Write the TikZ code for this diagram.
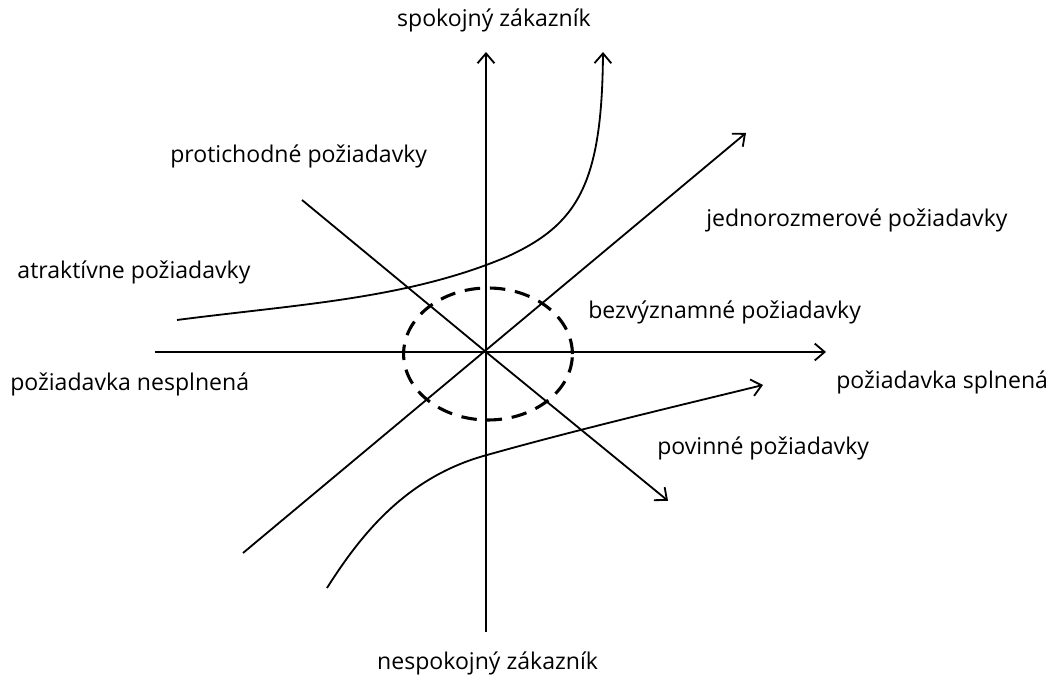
\documentclass[tikz,border=0pt]{standalone}
\usepackage{fontspec}
\setmainfont{Open Sans}
\usetikzlibrary{arrows.meta}

\tikzset{
    axis/.style={line width=1.3pt, -{Straight Barb[length=7pt,width=12pt]}},
    lbl/.style={font=\fontsize{16.4}{19}\selectfont, inner sep=0pt, anchor=west},
}

\begin{document}
\begin{tikzpicture}
    \useasboundingbox (-12.15,-8.125) rectangle (14.2,8.8);

    % koncove body osi a priamok
    \coordinate (O) at (0,0);
    \coordinate (xl) at (-8.275,0);
    \coordinate (xr) at (8.5,0);
    \coordinate (yb) at (0,-7);
    \coordinate (yt) at (0,7.5);
    \coordinate (jl) at (-6.075,-5.025);
    \coordinate (jr) at (6.5,5.475);
    \coordinate (pl) at (-4.6,3.8);
    \coordinate (pr) at (4.55,-3.72);

    % osi
    \draw[axis] (xl) -- (xr);
    \draw[axis] (yb) -- (yt);

    % priamky
    \draw[axis] (jl) -- (jr); % jednorozmerove
    \draw[line width=1.3pt] (pl) -- (O);
    \draw[axis] (O) -- (pr); % protichodne

    % krivky
    \coordinate (al) at (-7.725,0.8);
    \coordinate (am) at (0.5,2.37);
    \coordinate (at) at (2.925,7.5);
    \draw[axis] (al) .. controls (-4.725,1.19) and (-2.0,1.32) .. (am)
        .. controls (2.3,3.18) and (2.9,4.2) .. (at); % atraktivne
    \coordinate (ml) at (-3.975,-5.9);
    \coordinate (mm) at (0.025,-2.575);
    \coordinate (mr) at (6.925,-0.825);
    \draw[axis] (ml) .. controls (-3.119,-4.548) and (-1.975,-3.115) .. (mm)
        .. controls (2.325,-1.925) and (5.425,-1.195) .. (mr); % povinne

    % bezvyznamne
    \draw[line width=2.2pt, dash pattern=on 11pt off 7pt] (0.05,-0.05) ellipse (2.11cm and 1.65cm);

    % popisy
    \node[lbl, anchor=center] (spok) at (0.2,8.3) {spokojný zákazník};
    \node[lbl, anchor=center] (nesp) at (0.04,-7.775) {nespokojný zákazník};
    \node[lbl] (prot) at (-7.9,4.9) {protichodné požiadavky};
    \node[lbl] (jedn) at (5.5,3.3) {jednorozmerové požiadavky};
    \node[lbl] (atr) at (-11.72,2) {atraktívne požiadavky};
    \node[lbl] (bezv) at (2.55,0.98) {bezvýznamné požiadavky};
    \node[lbl] (nespl) at (-11.9,-0.82) {požiadavka nesplnená};
    \node[lbl] (spl) at (8.75,-0.75) {požiadavka splnená};
    \node[lbl] (pov) at (4.275,-2.4) {povinné požiadavky};
\end{tikzpicture}
\end{document}
